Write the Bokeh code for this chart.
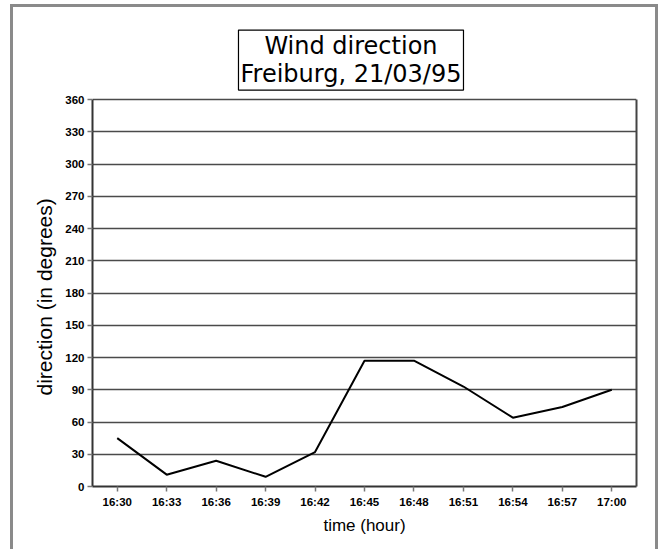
from bokeh.plotting import figure
from bokeh.models import Label, FixedTicker, LinearAxis, Title
from bokeh.embed import file_html
from bokeh.resources import INLINE

# ---- data ----
times = ["16:30", "16:33", "16:36", "16:39", "16:42", "16:45",
         "16:48", "16:51", "16:54", "16:57", "17:00"]
direction = [45, 11, 24, 9, 32, 117, 117, 93, 64, 74, 90]
y_ticks = [0, 30, 60, 90, 120, 150, 180, 210, 240, 270, 300, 330, 360]
title_lines = ["Wind direction", "Freiburg, 21/03/95"]
x_label = "time (hour)"
y_label = "direction (in degrees)"

def to_min(t):
    h, m = t.split(":")
    return (int(h) - 16) * 60 + int(m)

xs = [to_min(t) for t in times]
y_max = y_ticks[-1]

# frame extends above 360 to hold the boxed title
p = figure(width=648, height=545, output_backend="svg", toolbar_location=None,
           x_range=(28.5, 61.5), y_range=(0, 433.5),
           min_border_left=79, min_border_right=25,
           min_border_top=13, min_border_bottom=66)
p.styles = {"border-left": "3px solid #8a8a8a", "border-right": "3px solid #8a8a8a",
            "border-top": "3px solid #8a8a8a", "margin-left": "10px", "margin-top": "4px"}
p.outline_line_color = None

p.line(xs, direction, line_color="black", line_width=2)

p.xaxis.ticker = FixedTicker(ticks=xs)
p.xaxis.major_label_overrides = {x: t for x, t in zip(xs, times)}
p.yaxis.ticker = FixedTicker(ticks=y_ticks)
p.yaxis.bounds = (0, y_max)

p.xgrid.grid_line_color = None
p.ygrid.grid_line_color = "#4a4a4a"
p.ygrid.grid_line_width = 1.6

for ax in (p.xaxis, p.yaxis):
    ax.axis_line_color = "#333333"
    ax.axis_line_width = 2
    ax.major_tick_line_color = "#777777"
    ax.major_tick_line_width = 1.5
    ax.major_tick_out = 5
    ax.major_tick_in = 0
    ax.minor_tick_line_color = None
    ax.major_label_text_font = "Liberation Sans"
    ax.major_label_text_font_style = "bold"
    ax.major_label_text_font_size = "11.5px"
    ax.major_label_text_color = "black"
    ax.axis_label_text_font = "Liberation Sans"
    ax.axis_label_text_font_style = "normal"
    ax.axis_label_text_color = "black"

p.xaxis.major_label_standoff = 4
p.yaxis.major_label_standoff = 3
p.xaxis.axis_label = x_label
p.xaxis.axis_label_text_font_size = "17px"
p.xaxis.axis_label_standoff = 5

# y label as a side title, so it can be centred on the 0-360 part of the frame
ytitle = Title(text=y_label, align="left", offset=91, standoff=14,
               text_font="Liberation Sans", text_font_style="normal",
               text_font_size="21px", text_color="black")
p.add_layout(ytitle, "left")

# right edge of the plotting box
right = LinearAxis(bounds=(0, y_max), ticker=FixedTicker(ticks=[]),
                   axis_line_color="#444444", axis_line_width=2,
                   major_tick_line_color=None, minor_tick_line_color=None,
                   major_label_text_font_size="0px", axis_label=None)
p.add_layout(right, "right")

title = Label(x=44.18, y=396.7,
              text="\n".join(title_lines), text_align="center", text_baseline="middle",
              text_font="DejaVu Sans", text_font_size="24px", text_color="black",
              text_line_height=1.0,
              border_line_color="black", border_line_width=1.2,
              background_fill_color="white", padding=2)
p.add_layout(title)

open("out.html", "w").write(file_html(p, INLINE))
